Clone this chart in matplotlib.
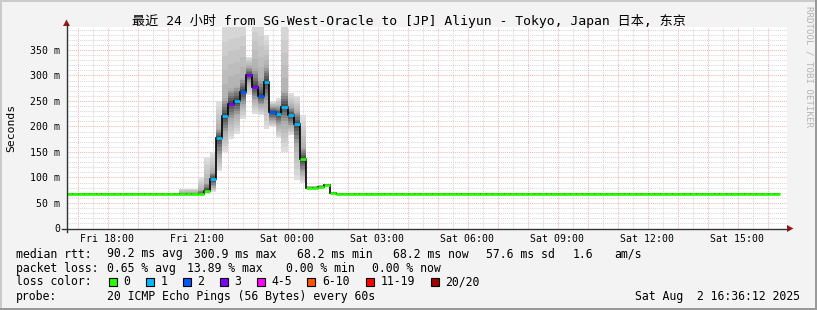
import matplotlib
matplotlib.use('Agg')
import matplotlib.pyplot as plt
import matplotlib.dates as mdates
from matplotlib.patches import Rectangle, Polygon
import matplotlib.ticker as mticker
import numpy as np
from datetime import datetime, timedelta

# ---------------- data ----------------
first_step = datetime(2025, 8, 1, 16, 36)
step_min = 12
n_base_before = 23   # flat baseline steps before the peak
n_base_after = 74    # flat baseline steps after the peak
base_rtt = 68.2

# steps with visible smoke just before the peak (median at baseline)
pre_median = [68.2, 68.2, 68.2, 68.2]
pre_min    = [67.5, 67.5, 67.5, 67.5]
pre_max    = [78, 78, 78, 100]
pre_clo    = [68, 68, 68, 68]
pre_chi    = [71, 71, 71, 75]

# the peak (21:12 .. 00:36)
peak_median = [74, 97, 178, 221, 245, 250, 268, 301, 277, 260, 288, 229, 224.5,
               239, 222.5, 205.5, 136, 80, 80, 82, 84.5, 70]
peak_loss   = [0, 1, 1, 1, 3, 1, 2, 3, 3, 2, 1, 2, 1, 1, 1, 1, 0, 0, 0, 0, 0, 0]
peak_min    = [68, 72, 112, 150, 175, 185, 215, 262, 225, 222, 195, 200, 178,
               150, 183, 95, 90, 78, 78, 80, 82, 69]
peak_max    = [141, 150, 250, 420, 420, 420, 420, 337, 420, 420, 380, 250, 255,
               420, 265, 260, 222, 84, 84, 86, 88, 72]
peak_clo    = [70, 80, 140, 185, 210, 220, 240, 285, 250, 240, 245, 210, 200,
               205, 200, 160, 108, 79, 79, 81, 83, 69.5]
peak_chi    = [90, 112, 195, 255, 275, 280, 295, 318, 315, 295, 320, 240, 240,
               270, 240, 230, 160, 82, 82, 84, 86, 71]

loss_labels = ["0", "1", "2", "3", "4-5", "6-10", "11-19", "20/20"]
loss_colors = ["#26ff00", "#00b8ff", "#0059ff", "#7e00ff", "#ff00ff", "#ff5500", "#ff0000", "#a10000"]

title = "最近 24 小时 from SG-West-Oracle to [JP] Aliyun - Tokyo, Japan 日本, 东京"
stats_rtt = ["median rtt:", "90.2 ms avg", "300.9 ms max", "68.2 ms min", "68.2 ms now", "57.6 ms sd", "1.6", "am/s"]
stats_loss = ["packet loss:", "0.65 % avg", "13.89 % max", "0.00 % min", "0.00 % now"]
probe_text = "20 ICMP Echo Pings (56 Bytes) every 60s"
stamp_text = "Sat Aug  2 16:36:12 2025"

# ---------------- assemble series ----------------
n_pre = n_base_before - len(pre_median)
median = [base_rtt] * n_pre + pre_median + peak_median + [base_rtt] * n_base_after
loss = [0] * n_base_before + peak_loss + [0] * n_base_after
smin = [base_rtt] * n_pre + pre_min + peak_min + [base_rtt] * n_base_after
smax = [base_rtt] * n_pre + pre_max + peak_max + [base_rtt] * n_base_after
clo = [base_rtt] * n_pre + pre_clo + peak_clo + [base_rtt] * n_base_after
chi = [base_rtt] * n_pre + pre_chi + peak_chi + [base_rtt] * n_base_after
N = len(median)
edges = [first_step + timedelta(minutes=step_min * i) for i in range(N + 1)]
edges_num = mdates.date2num(edges)
median = np.array(median, float)
smin = np.minimum(np.array(smin, float), median); smax = np.maximum(np.array(smax, float), median)
clo = np.minimum(np.array(clo, float), median); chi = np.maximum(np.array(chi, float), median)

# ---------------- figure ----------------
W, H = 817, 310
fig = plt.figure(figsize=(W / 100, H / 100), dpi=100, facecolor='#f3f3f3')
def fx(px): return px / W
def fy(py): return 1 - py / H

ax_l, ax_r, ax_t, ax_b = 66.5, 786.5, 27.0, 228.5
ax = fig.add_axes([fx(ax_l), fy(ax_b), fx(ax_r - ax_l), (ax_b - ax_t) / H])
ax.set_facecolor('white')
xmin = datetime(2025, 8, 1, 16, 38)
xmax = xmin + timedelta(hours=24)
ax.set_xlim(xmin, xmax)
ax.set_ylim(0, 395)
for s in ax.spines.values():
    s.set_visible(False)

# grid
dot = (0, (1, 1))
minor_c = '#d8d8d8'
major_c = '#f0b8b8'
t = datetime(2025, 8, 1, 17, 0)
while t < xmax:
    ax.axvline(t, color=major_c, lw=0.75, ls=dot, zorder=1)
    t2 = t - timedelta(minutes=30)
    if t2 > xmin:
        ax.axvline(t2, color=minor_c, lw=0.75, ls=dot, zorder=0.9)
    t += timedelta(hours=1)
for v in range(10, 400, 10):
    if v % 50 == 0:
        ax.axhline(v, color=major_c, lw=0.75, ls=dot, zorder=1)
    else:
        ax.axhline(v, color=minor_c, lw=0.75, ls=dot, zorder=0.9)

# smoke: graded shading from extremes (light) to median (dark)
def shade(g):
    return (g / 255, g / 255, g / 255)
K = 6
for j in range(K):
    f = j / K
    g = 222 + (172 - 222) * f
    lo = smin + (clo - smin) * f
    hi = smax + (chi - smax) * f
    ax.stairs(hi, edges_num, baseline=lo, fill=True, color=shade(g), lw=0, zorder=2 + j * 0.01)
for j in range(K):
    f = j / K
    g = 172 + (55 - 172) * f
    lo = clo + (median - clo) * f
    hi = chi + (median - chi) * f
    ax.stairs(hi, edges_num, baseline=lo, fill=True, color=shade(g), lw=0, zorder=2.1 + j * 0.01)

# median black step line
ax.stairs(median, edges_num, baseline=None, color='black', lw=1.2, zorder=3)
# coloured loss segments
cols = [loss_colors[l] for l in loss]
ax.hlines(median, edges_num[:-1], edges_num[1:], colors=cols, lw=2.0, zorder=4)

# ticks
ax.xaxis.set_major_locator(mdates.HourLocator(byhour=range(0, 24, 3)))
ax.xaxis.set_major_formatter(mdates.DateFormatter('%a %H:%M'))
ax.yaxis.set_major_locator(mticker.MultipleLocator(50))
ax.yaxis.set_major_formatter(mticker.FuncFormatter(lambda v, p: "0" if v == 0 else f"{int(v)} m"))
ax.tick_params(axis='both', length=0, labelsize=7.1, labelcolor='black')
ax.tick_params(axis='x', pad=4.0)
ax.tick_params(axis='y', pad=4.5)
for lab in ax.get_xticklabels() + ax.get_yticklabels():
    lab.set_family('DejaVu Sans Mono')

# axes lines and arrows
axc = '#333333'
fig.add_artist(plt.Line2D([fx(62), fx(ax_r + 2)], [fy(ax_b), fy(ax_b)], color=axc, lw=1.0))
fig.add_artist(plt.Line2D([fx(ax_l), fx(ax_l)], [fy(ax_b + 3), fy(24)], color=axc, lw=1.0))
arrow_c = '#a01818'
fig.add_artist(Polygon([[fx(ax_l - 3.5), fy(26)], [fx(ax_l + 3.5), fy(26)], [fx(ax_l), fy(19.5)]],
                       closed=True, color=arrow_c, lw=0))
fig.add_artist(Polygon([[fx(ax_r + 0.5), fy(ax_b - 3.5)], [fx(ax_r + 0.5), fy(ax_b + 3.5)],
                        [fx(ax_r + 7), fy(ax_b)]], closed=True, color=arrow_c, lw=0))

# texts
mono = 'DejaVu Sans Mono'
fig.text(fx(408.5), fy(20.5), title, ha='center', va='center', fontsize=9.45,
         family=[mono, 'Noto Sans CJK SC'])
fig.text(fx(11), fy(128), "Seconds", rotation=90, ha='center', va='center', fontsize=8.2, family=mono)
fig.text(fx(809), fy(66), "RRDTOOL / TOBI OETIKER", rotation=270, ha='center', va='center',
         fontsize=6.6, family=mono, color='#b4b4b4')

fs = 8.3
rtt_x = [16, 107.3, 194, 296.7, 393.3, 486, 572.3, 614]
for s_, x_ in zip(stats_rtt, rtt_x):
    fig.text(fx(x_), fy(254), s_, ha='left', va='center', fontsize=fs, family=mono)
loss_x = [16, 107.3, 187.3, 286, 371.7]
for s_, x_ in zip(stats_loss, loss_x):
    fig.text(fx(x_), fy(268.3), s_, ha='left', va='center', fontsize=fs, family=mono)
fig.text(fx(16), fy(281.7), "loss color:", ha='left', va='center', fontsize=fs, family=mono)
box_x = [108.7, 145.7, 182.7, 220, 257, 307.3, 365.7, 430.7]
for lab, c, bx in zip(loss_labels, loss_colors, box_x):
    fig.add_artist(Rectangle((fx(bx), fy(286)), 8 / W, 8 / H, facecolor=c, edgecolor='black', lw=0.8))
    fig.text(fx(bx + 14.5), fy(281.7), lab, ha='left', va='center', fontsize=fs, family=mono)
fig.text(fx(16), fy(296.7), "probe:", ha='left', va='center', fontsize=fs, family=mono)
fig.text(fx(107.3), fy(296.7), probe_text, ha='left', va='center', fontsize=fs, family=mono)
fig.text(fx(800), fy(296.7), stamp_text, ha='right', va='center', fontsize=fs, family=mono)

# 3D border
fig.add_artist(Rectangle((0, fy(2)), 1, 2 / H, color='#cbcbcb', lw=0))
fig.add_artist(Rectangle((0, 0), 2 / W, 1, color='#cbcbcb', lw=0))
fig.add_artist(Rectangle((0, 0), 1, 2 / H, color='#999999', lw=0))
fig.add_artist(Rectangle((fx(W - 2), 0), 2 / W, 1, color='#999999', lw=0))

fig.savefig('out.png', dpi=100, facecolor=fig.get_facecolor())
